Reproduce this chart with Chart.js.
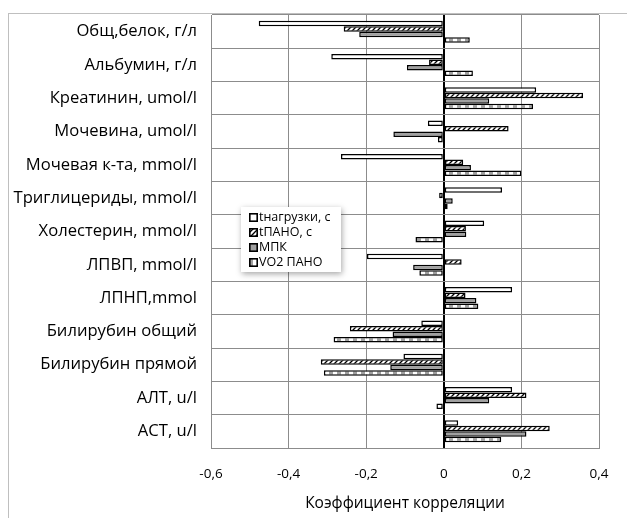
<!DOCTYPE html>
<html>
<head>
<meta charset="utf-8">
<script src="https://cdn.jsdelivr.net/npm/chart.js@4/dist/chart.umd.min.js"></script>
<style>
  body { margin: 0; background: #fff; }
  #box { position: absolute; left: 8px; top: 13px; width: 618px; height: 504px;
         border-left: 1px solid #bfbfbf; border-top: 1px solid #bfbfbf; }
  #legend { position: absolute; left: 241px; top: 207px; width: 100px; padding: 2px 0 3px 0;
            background: #fff; box-shadow: 1px 2px 6px rgba(0,0,0,0.35);
            font-family: "Open Sans", sans-serif; font-size: 12.5px; color: #000; }
  #legend div { height: 15px; line-height: 15px; white-space: nowrap; padding-left: 8px; }
  #legend canvas { vertical-align: -1px; margin-right: 1px; }
</style>
</head>
<body>
<div id="box"><canvas id="myChart" width="618" height="504"></canvas></div>
<div id="legend"></div>
<script>
const categorias = ['Общ,белок, г/л', 'Альбумин, г/л', 'Креатинин, umol/l', 'Мочевина, umol/l',
  'Мочевая к-та, mmol/l', 'Триглицериды, mmol/l', 'Холестерин, mmol/l', 'ЛПВП, mmol/l',
  'ЛПНП,mmol', 'Билирубин общий', 'Билирубин прямой', 'АЛТ, u/l', 'АСТ, u/l'];
const series = ['tнагрузки, с', 'tПАНО, с', 'МПК', 'VO2 ПАНО'];
const tNagruzki = [-0.477, -0.29, 0.238, -0.041, -0.265, 0.15, 0.104, -0.198, 0.176, -0.058, -0.104, 0.176, 0.037];
const tPANO = [-0.258, -0.038, 0.359, 0.167, 0.05, -0.012, 0.057, 0.046, 0.056, -0.242, -0.317, 0.213, 0.273];
const mpk = [-0.218, -0.095, 0.117, -0.13, 0.07, 0.023, 0.058, -0.079, 0.084, -0.132, -0.138, 0.117, 0.213];
const vo2PANO = [0.067, 0.075, 0.23, -0.015, 0.2, 0.01, -0.073, -0.063, 0.089, -0.284, -0.309, -0.019, 0.148];
const ejeTicks = [-0.6, -0.4, -0.2, 0, 0.2, 0.4];

function patron(tipo) {
  const c = document.createElement('canvas');
  const g = c.getContext('2d');
  if (tipo === 'hatch') {
    c.width = 5; c.height = 5;
    g.fillStyle = '#fff'; g.fillRect(0, 0, 5, 5);
    g.strokeStyle = '#000'; g.lineWidth = 1.3;
    g.beginPath(); g.moveTo(-1, 6); g.lineTo(6, -1); g.moveTo(-1, 1); g.lineTo(1, -1); g.moveTo(4, 6); g.lineTo(6, 4); g.stroke();
  } else {
    c.width = 8; c.height = 4;
    g.fillStyle = '#fff'; g.fillRect(0, 0, 8, 4);
    g.fillStyle = '#a0a0a0'; g.fillRect(0, 0, 4, 4);
  }
  return g.createPattern(c, 'repeat');
}

const rellenos = ['#ffffff', patron('hatch'), '#a0a0a0', patron('dash')];
const valores = [tNagruzki, tPANO, mpk, vo2PANO];

const ctx = document.getElementById('myChart');
new Chart(ctx, {
  type: 'bar',
  data: {
    labels: categorias,
    datasets: series.map((s, i) => ({
      label: s,
      data: valores[i],
      backgroundColor: rellenos[i],
      borderColor: '#000',
      borderWidth: 1.5,
      borderSkipped: false,
      categoryPercentage: 0.66,
      barPercentage: 1
    }))
  },
  options: {
    indexAxis: 'y',
    responsive: false,
    animation: false,
    layout: { padding: { top: 1, right: 28, left: 0, bottom: 0 } },
    plugins: { legend: { display: false }, tooltip: { enabled: false } },
    scales: {
      x: {
        min: -0.6, max: 0.4,
        afterBuildTicks: s => { s.ticks = ejeTicks.map(v => ({ value: v })); },
        afterFit: s => { s.height = 70; },
        grid: {
          drawTicks: false,
          color: c => (c.tick && c.tick.value === 0) ? '#000' : '#8c8c8c',
          lineWidth: c => (c.tick && c.tick.value === 0) ? 2 : 1
        },
        border: { color: '#8c8c8c' },
        ticks: {
          padding: 18, color: '#000',
          font: { family: 'Open Sans', size: 13.5 },
          callback: v => v === 0 ? '0' : v.toFixed(1).replace('.', ',')
        },
        title: {
          display: true, text: 'Коэффициент корреляции', color: '#000',
          font: { family: 'Open Sans', size: 15.5 },
          padding: { top: 4, bottom: 5 }
        }
      },
      y: {
        afterFit: s => { s.width = 202; s.paddingTop = 0; s.paddingBottom = 0; },
        grid: { drawTicks: false, color: '#8c8c8c' },
        border: { color: '#8c8c8c' },
        ticks: { padding: 14, color: '#000', font: { family: 'Open Sans', size: 16.6 } }
      }
    }
  }
});

// leyenda
const ley = document.getElementById('legend');
series.forEach((s, i) => {
  const fila = document.createElement('div');
  const sw = document.createElement('canvas');
  sw.width = 9; sw.height = 9;
  const g = sw.getContext('2d');
  g.fillStyle = rellenos[i]; g.fillRect(0, 0, 9, 9);
  g.strokeStyle = '#000'; g.lineWidth = 1.6; g.strokeRect(0.8, 0.8, 7.4, 7.4);
  fila.appendChild(sw);
  fila.appendChild(document.createTextNode(s));
  ley.appendChild(fila);
});
</script>
</body>
</html>
